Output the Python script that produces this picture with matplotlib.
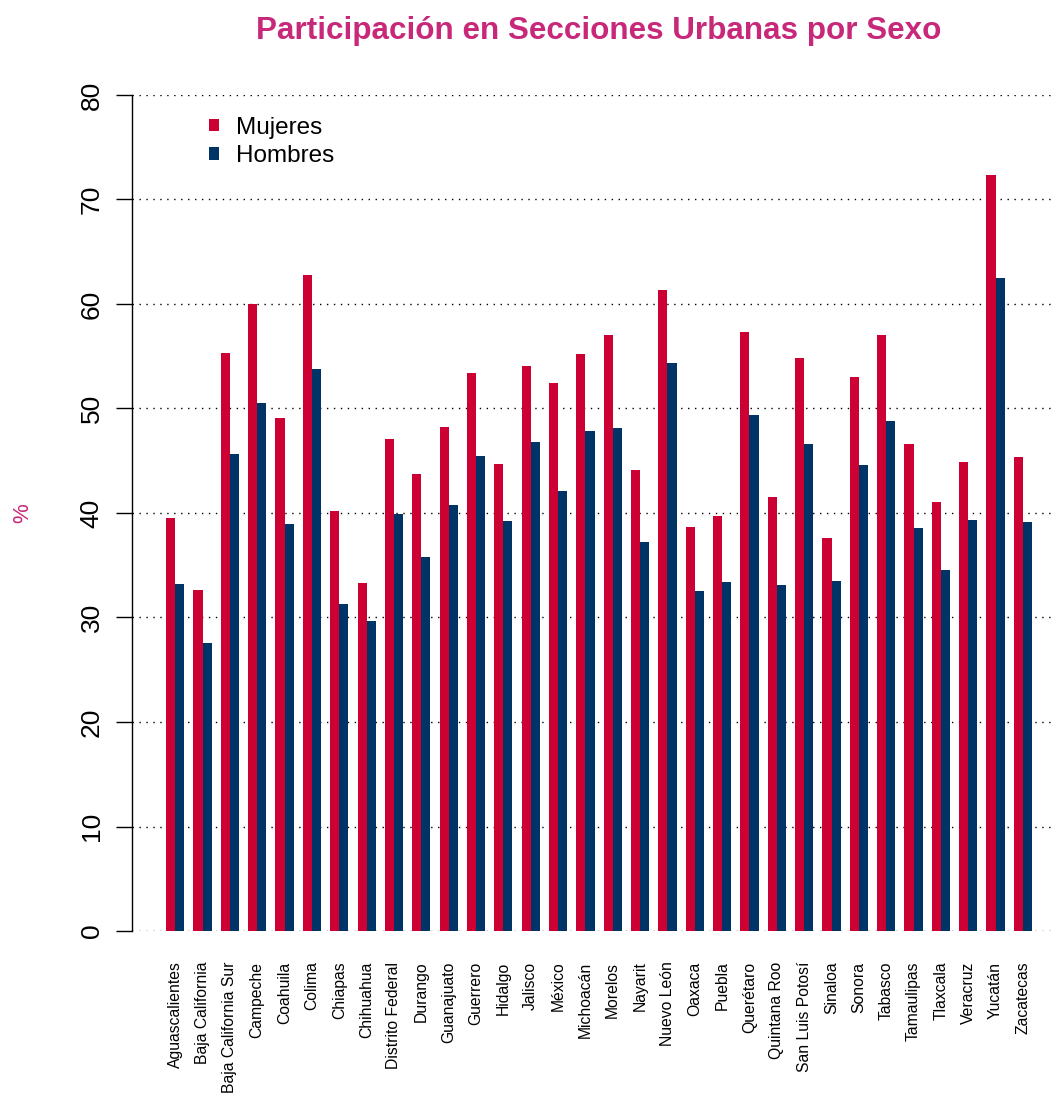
import matplotlib
matplotlib.use('Agg')
import matplotlib.pyplot as plt
import numpy as np

plt.rcParams['font.family'] = ['Liberation Sans', 'DejaVu Sans']

estados = ['Aguascalientes', 'Baja California', 'Baja California Sur', 'Campeche',
           'Coahuila', 'Colima', 'Chiapas', 'Chihuahua', 'Distrito Federal',
           'Durango', 'Guanajuato', 'Guerrero', 'Hidalgo', 'Jalisco', 'México',
           'Michoacán', 'Morelos', 'Nayarit', 'Nuevo León', 'Oaxaca', 'Puebla',
           'Querétaro', 'Quintana Roo', 'San Luis Potosí', 'Sinaloa', 'Sonora',
           'Tabasco', 'Tamaulipas', 'Tlaxcala', 'Veracruz', 'Yucatán', 'Zacatecas']
mujeres = [39.5, 32.6, 55.3, 60.0, 49.1, 62.8, 40.2, 33.3, 47.1, 43.7, 48.2,
           53.4, 44.7, 54.1, 52.4, 55.2, 57.0, 44.1, 61.3, 38.7, 39.7, 57.3,
           41.5, 54.8, 37.6, 53.0, 57.0, 46.6, 41.1, 44.9, 72.3, 45.4]
hombres = [33.2, 27.6, 45.6, 50.5, 38.9, 53.8, 31.3, 29.7, 39.9, 35.8, 40.8,
           45.5, 39.2, 46.8, 42.1, 47.8, 48.1, 37.2, 54.4, 32.5, 33.4, 49.4,
           33.1, 46.6, 33.5, 44.6, 48.8, 38.6, 34.5, 39.3, 62.5, 39.1]
yticks = [0, 10, 20, 30, 40, 50, 60, 70, 80]

rojo = '#CC0033'
azul = '#003366'
rosa = '#C8287A'

W, H = 1053, 1095
fig = plt.figure(figsize=(W / 100, H / 100), dpi=100)
# axes en pixeles: eje y en x=132, 0 en y=931, 80 en y=95
ax = fig.add_axes([132 / W, (H - 931) / H, (W - 132) / W, (931 - 95) / H])

n = len(estados)
pos = np.arange(n) * 3 + 2  # estilo barplot de R (space = c(0, 1))
for y in yticks:
    ax.axhline(y, color='black', linestyle=(0, (1, 4)), linewidth=1.0, zorder=1)
ax.bar(pos - 0.5, mujeres, width=1, color=rojo, label='Mujeres', zorder=2)
ax.bar(pos + 0.5, hombres, width=1, color=azul, label='Hombres', zorder=2)

ax.set_xlim(-2.74, 98.3)
ax.set_ylim(0, 80)
for s in ['top', 'right', 'bottom']:
    ax.spines[s].set_visible(False)
ax.spines['left'].set_linewidth(1.0)
ax.spines['left'].set_bounds(0, 80)

ax.set_yticks(yticks)
ax.set_yticklabels([str(v) for v in yticks], rotation=90, va='center', fontsize=19)
ax.tick_params(axis='y', length=11.5, width=1.0, pad=9)
ax.set_xticks(pos)
ax.set_xticklabels(estados, rotation=90, fontsize=11.3, va='top')
ax.tick_params(axis='x', length=0, pad=22)

ax.set_ylabel('%', color=rosa, fontsize=16, labelpad=33)

fig.text(599 / W, 1 - 31 / H, 'Participación en Secciones Urbanas por Sexo',
         ha='center', va='center', fontsize=22.6, fontweight='bold', color=rosa)

ax.legend(loc='upper left', bbox_to_anchor=(0.06, 1.0), frameon=False,
          fontsize=17.5, handlelength=0.42, handleheight=0.42, handletextpad=0.7,
          labelspacing=0.26)

fig.savefig('out.png', dpi=100)
